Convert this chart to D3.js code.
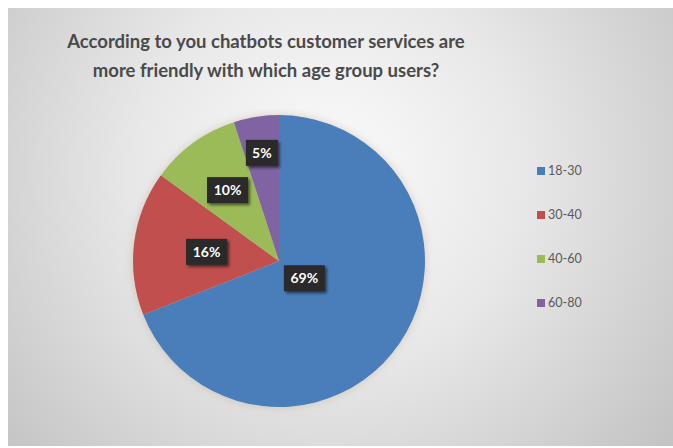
<!DOCTYPE html>
<html>
<head>
<meta charset="utf-8">
<script src="https://cdn.jsdelivr.net/npm/d3@7/dist/d3.min.js"></script>
<style>
  html, body { margin: 0; padding: 0; background: #ffffff; }
  svg { display: block; }
</style>
</head>
<body>
<svg id="chart" width="673" height="448"></svg>
<script>
// Survey answers: age group vs. share of respondents
const categories = ["18-30", "30-40", "40-60", "60-80"];
const values = [69, 16, 10, 5];
const colors = ["#4a7ebb", "#c0504d", "#9bbb59", "#8064a2"];
const titleLines = [
  "According to you chatbots customer services are",
  "more friendly with which age group users?"
];

const svg = d3.select("#chart");
const W = 673, H = 448;

// Background panel with a soft radial gray gradient
const defs = svg.append("defs");
const bg = defs.append("radialGradient")
  .attr("id", "bgGrad")
  .attr("gradientUnits", "userSpaceOnUse")
  .attr("cx", 330).attr("cy", 170).attr("r", 430);
bg.append("stop").attr("offset", "0%").attr("stop-color", "#fbfbfb");
bg.append("stop").attr("offset", "45%").attr("stop-color", "#e8e8e8");
bg.append("stop").attr("offset", "100%").attr("stop-color", "#c4c4c4");

const shadow = defs.append("filter").attr("id", "lblShadow")
  .attr("x", "-30%").attr("y", "-30%").attr("width", "170%").attr("height", "170%");
shadow.append("feDropShadow")
  .attr("dx", 2).attr("dy", 2).attr("stdDeviation", 1.6)
  .attr("flood-color", "#000").attr("flood-opacity", 0.55);

const pieGlow = defs.append("filter").attr("id", "pieGlow")
  .attr("x", "-20%").attr("y", "-20%").attr("width", "140%").attr("height", "140%");
pieGlow.append("feGaussianBlur").attr("in", "SourceAlpha").attr("stdDeviation", 5).attr("result", "b");
pieGlow.append("feFlood").attr("flood-color", "#a09070").attr("flood-opacity", 0.35);
pieGlow.append("feComposite").attr("in2", "b").attr("operator", "in").attr("result", "g");
const pm = pieGlow.append("feMerge");
pm.append("feMergeNode").attr("in", "g");
pm.append("feMergeNode").attr("in", "SourceGraphic");

svg.append("rect")
  .attr("x", 8).attr("y", 8).attr("width", W - 8).attr("height", H - 10)
  .attr("fill", "url(#bgGrad)");

// Title
const title = svg.append("text")
  .attr("text-anchor", "middle")
  .attr("font-family", "Lato, 'Open Sans', sans-serif")
  .attr("font-weight", "bold")
  .attr("font-size", 18.5)
  .attr("fill", "#4a4a4a");
titleLines.forEach((line, i) => {
  title.append("tspan")
    .attr("x", 266)
    .attr("y", 48 + i * 29)
    .text(line);
});

// Pie
const cx = 279, cy = 261, R = 146;
const pie = d3.pie().sort(null).value(d => d)
  .startAngle(0).endAngle(2 * Math.PI);
const arcs = pie(values);
const arc = d3.arc().innerRadius(0).outerRadius(R);

const g = svg.append("g").attr("transform", `translate(${cx},${cy})`);
const slices = g.append("g").attr("filter", "url(#pieGlow)");
slices.selectAll("path")
  .data(arcs)
  .join("path")
  .attr("d", arc)
  .attr("fill", (d, i) => colors[i])
  .attr("stroke", "none");

// Data labels placed along each slice's bisector (best-fit style radii)
const labelRadius = [0.21, 0.50, 0.60, 0.75];
const labels = g.selectAll("g.lbl")
  .data(arcs)
  .join("g")
  .attr("class", "lbl")
  .attr("transform", (d, i) => {
    const r = R * labelRadius[i];
    const a = (d.startAngle + d.endAngle) / 2;
    return `translate(${Math.sin(a) * r},${-Math.cos(a) * r})`;
  });
labels.each(function (d) {
  const sel = d3.select(this);
  const txt = `${d.data}%`;
  const w = txt.length === 2 ? 32 : 41;
  sel.append("rect")
    .attr("x", -w / 2).attr("y", -13)
    .attr("width", w).attr("height", 26)
    .attr("fill", "#2b2b2b")
    .attr("filter", "url(#lblShadow)");
  sel.append("text")
    .attr("text-anchor", "middle")
    .attr("dy", "0.36em")
    .attr("font-family", "Lato, 'Open Sans', sans-serif")
    .attr("font-weight", "bold")
    .attr("font-size", 14)
    .attr("fill", "#ffffff")
    .text(txt);
});

// Legend
const legend = svg.append("g").attr("transform", "translate(537,171)");
const rows = legend.selectAll("g")
  .data(categories)
  .join("g")
  .attr("transform", (d, i) => `translate(0,${i * 44})`);
rows.append("rect")
  .attr("x", 0).attr("y", -4)
  .attr("width", 8).attr("height", 8)
  .attr("fill", (d, i) => colors[i]);
rows.append("text")
  .attr("x", 11)
  .attr("dy", "0.35em")
  .attr("font-family", "Lato, 'Open Sans', sans-serif")
  .attr("font-size", 12.5)
  .attr("fill", "#595959")
  .text(d => d);
</script>
</body>
</html>
